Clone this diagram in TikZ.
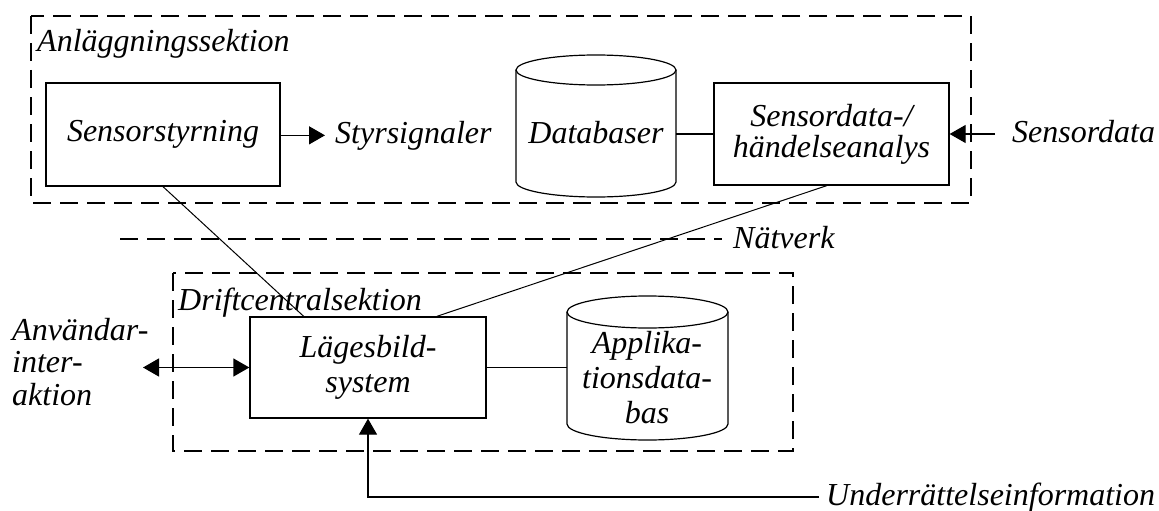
\documentclass[tikz,border=0pt]{standalone}
\usepackage{fontspec}
\setmainfont{Liberation Serif}
\usetikzlibrary{arrows.meta,calc}
\newcommand\drawcyl[3]{%
  \draw[cylline] ([yshift=-#3]#1.north west) -- ([yshift=#3]#1.south west)
     arc[start angle=180,end angle=360,x radius=#2,y radius=#3]
     -- ([yshift=-#3]#1.north east);
  \draw[cylline] ([yshift=-#3]#1.north) ellipse[x radius=#2,y radius=#3];}
\begin{document}
\begin{tikzpicture}[x=1pt,y=-1pt,
  font=\itshape\fontsize{32}{34}\selectfont,
  >={Triangle[length=16pt,width=18pt]},
  box/.style={draw,line width=1.3pt,inner sep=0pt},
  secbox/.style={draw,dash pattern=on 18pt off 9pt,line width=1.5pt},
  lbl/.style={inner sep=0pt},
  conn/.style={line width=1.3pt},
  diag/.style={line width=1pt},
  cylline/.style={line width=1.2pt},
  cylnode/.style={inner sep=0pt,outer sep=0pt}]
\useasboundingbox (0,0) rectangle (1159,511);

% section frames
\draw[secbox] (31,16) rectangle (971,203);
\draw[secbox] (173,273) rectangle (793,451);

% labels
\node[lbl,anchor=base west] (as) at (37,52) {Anläggningssektion};
\node[lbl,anchor=base west] (styr) at (335,143) {Styrsignaler};
\node[lbl,anchor=base west] (sd) at (1012,142) {Sensordata};
\node[lbl,anchor=base west] (nat) at (733,248) {Nätverk};
\node[lbl,anchor=base west] (dc) at (178,310) {Driftcentralsektion};
\node[lbl,anchor=north west,align=left,font=\itshape\fontsize{32}{32.5}\selectfont] (au) at (12,318) {Användar-\\inter-\\aktion};
\node[lbl,anchor=base west] (ui) at (826,505) {Underrättelseinformation};

% boxes
\node[box,minimum width=234pt,minimum height=103pt] (ss) at (163,134.5) {Sensorstyrning};
\node[box,minimum width=235pt,minimum height=102pt,align=center,font=\itshape\fontsize{32}{31}\selectfont] (sa) at (831.5,134) {Sensordata-/\\händelseanalys};
\node[box,minimum width=236pt,minimum height=101pt,align=center,font=\itshape\fontsize{32}{35}\selectfont] (lb) at (368,367.5) {Lägesbild-\\system};

% cylinders
\node[cylnode,minimum width=160pt,minimum height=142pt] (db) at (596,126) {};
\drawcyl{db}{80pt}{15pt}
\node[lbl,anchor=base] (dbt) at (596,143) {Databaser};
\node[cylnode,minimum width=161pt,minimum height=144pt] (app) at (647.5,368) {};
\drawcyl{app}{80.5pt}{16pt}
\node[lbl,anchor=north,align=center,font=\itshape\fontsize{32}{35}\selectfont] (appt) at (647,331) {Applika-\\tionsdata-\\bas};

% network
\coordinate (nl) at (120,239);
\draw[secbox,shorten >=11pt] (nl) -- (nl -| nat.west);

% connectors
\draw[conn,->] (ss.east |- styr.west) -- ([xshift=-10pt]styr.west);
\draw[conn] (db.east |- sa.west) -- (sa.west);
\draw[conn,->] ($(sa.east -| sd.west)+(-17pt,0)$) -- (sa.east);
\draw[diag] (ss.south) -- ($(lb.north west)!0.229!(lb.north east)$);
\draw[diag] ($(sa.south west)!0.48!(sa.south east)$) -- ($(lb.north west)!0.79!(lb.north east)$);
\coordinate (ua) at (143,367.5);
\draw[conn,<->] (ua) -- (ua -| lb.west);
\draw[conn] (lb.east) -- (lb.east -| app.west);
\draw[conn,->] ([xshift=-7pt]ui.west) -- (lb.south |- ui.west) -- (lb.south);
\end{tikzpicture}
\end{document}
